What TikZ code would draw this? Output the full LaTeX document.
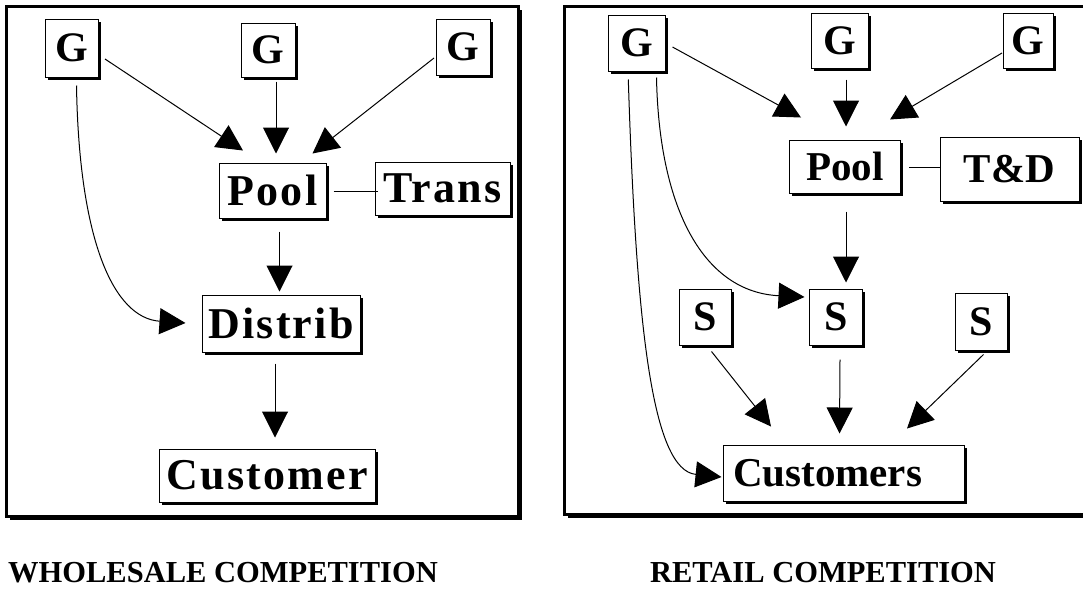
\documentclass[tikz,border=0pt]{standalone}
\usepackage{fontspec}
\setmainfont{Liberation Serif}
\newfontfamily\spacedserif[LetterSpace=5]{Liberation Serif}
\usetikzlibrary{arrows.meta,shadows,calc}

\begin{document}
\begin{tikzpicture}[x=1pt, y=-1pt,
	box/.style={draw, line width=1pt, fill=white, inner sep=0pt,
		drop shadow={shadow xshift=2.5pt, shadow yshift=-2.5pt, opacity=1, fill=black}},
	lbl/.style={font=\spacedserif\fontsize{44}{44}\selectfont\bfseries},
	rbl/.style={font=\fontsize{41}{41}\selectfont\bfseries},
	gbl/.style={font=\fontsize{42}{42}\selectfont\bfseries},
	arr/.style={-{Triangle[length=26pt,width=26pt]}, line width=1pt},
	frame/.style={line width=3pt, fill=white,
		drop shadow={shadow xshift=3.5pt, shadow yshift=-3.5pt, opacity=1, fill=black}},
	caption/.style={font=\fontsize{30.5}{30.5}\selectfont\bfseries}
	]
	\useasboundingbox (0,0) rectangle (1083,590);
	
	% frames
	\draw[frame] (6,6) rectangle (518,516);
	\draw[frame] (1083,6) -- (564,6) -- (564,514) -- (1083,514);
	
	% wholesale
	\node[box, gbl, minimum width=53pt, minimum height=58pt] (g1) at (71.5,48) {G};
	\node[box, gbl, minimum width=54pt, minimum height=54pt] (g2) at (268,50) {G};
	\node[box, gbl, minimum width=54pt, minimum height=56pt] (g3) at (463,47) {G};
	\node[box, lbl, minimum width=107pt, minimum height=55pt] (pool) at (272.5,190.5) {Pool};
	\node[box, lbl, minimum width=135pt, minimum height=53pt] (trans) at (442.5,188.5) {Trans};
	\node[box, lbl, minimum width=158pt, minimum height=57pt] (distrib) at (281,323.5) {Distrib};
	\node[box, lbl, minimum width=216pt, minimum height=53pt] (cust) at (267,475.5) {Customer};
	
	\draw[arr] ($(g1.east)+(6.5,11)$) -- ($(pool.north)+(-29.5,-12)$);
	\draw[arr] ($(g2.south)+(8,4)$) -- ($(pool.north)+(3.5,-9)$);
	\draw[arr] ($(g3.west)+(-1.5,11)$) -- ($(pool.north)+(40,-9)$);
	\draw[line width=1pt] ($(pool.east)+(7,0.5)$) -- ($(trans.west)+(3,2.5)$);
	\draw[arr] ($(pool.south)+(7,13)$) -- ($(distrib.north)+(-1.5,-3)$);
	\draw[arr] ($(distrib.south)+(-6,11)$) -- ($(cust.north)+(8,-11)$);
	\draw[arr] ($(g1.south)+(5,8)$) .. controls +(2.5,155) and +(-72,-5) .. ($(distrib.west)+(-16,-0.5)$);
	
	\node[caption] (wtitle) at (223,573) {WHOLESALE COMPETITION};
	
	% retail
	\node[box, gbl, minimum width=57pt, minimum height=56pt] (ga) at (637,43) {G};
	\node[box, gbl, minimum width=57pt, minimum height=55pt] (gb) at (840,40.5) {G};
	\node[box, gbl, minimum width=50pt, minimum height=55pt] (gc) at (1028,40.5) {G};
	\node[box, rbl, minimum width=111pt, minimum height=53pt] (poolr) at (845,166.5) {Pool};
	\node[box, rbl, minimum width=139pt, minimum height=64pt] (td) at (1009.5,169) {T\&D};
	\node[box, gbl, minimum width=52pt, minimum height=56pt] (sa) at (705,317) {S};
	\node[box, gbl, minimum width=53pt, minimum height=56pt] (sb) at (836,317) {S};
	\node[box, gbl, minimum width=52pt, minimum height=57pt] (sc) at (981,321.5) {S};
	\node[box, rbl, text width=221pt, align=left, inner xsep=10pt, minimum height=56pt] (custr) at (843.5,473) {Customers};
	
	\draw[arr] ($(ga.east)+(6.5,4)$) -- ($(poolr.north)+(-44,-22)$);
	\draw[arr] ($(gb.south)+(6,11)$) -- ($(poolr.north)+(1,-13)$);
	\draw[arr] ($(gc.west)+(-0.5,12.5)$) -- ($(poolr.north)+(45,-20)$);
	\draw[line width=1pt] ($(poolr.east)+(8,0.5)$) -- ($(td.west)+(1,-2)$);
	\draw[arr] ($(poolr.south)+(1,18)$) -- ($(sb.north)+(10,-6)$);
	\draw[arr] ($(ga.south)+(19.5,6)$) .. controls +(2.6,133) and +(-100,-5) .. ($(sb.west)+(-4.5,-20)$);
	\draw[arr] ($(ga.south)+(-8.7,8)$) .. controls +(8,251) and +(-69,-7) .. ($(custr.west)+(-1,4)$);
	\draw[arr] ($(sa.south)+(6.5,6)$) -- ($(custr.north)+(-72.5,-18)$);
	\draw[arr] ($(sb.south)+(4,14)$) -- ($(custr.north)+(-4,-11)$);
	\draw[arr] ($(sc.south)+(2.5,4)$) -- ($(custr.north)+(63.5,-16)$);
	
	\node[caption] (rtitle) at (823,573) {RETAIL COMPETITION};
\end{tikzpicture}
\end{document}
